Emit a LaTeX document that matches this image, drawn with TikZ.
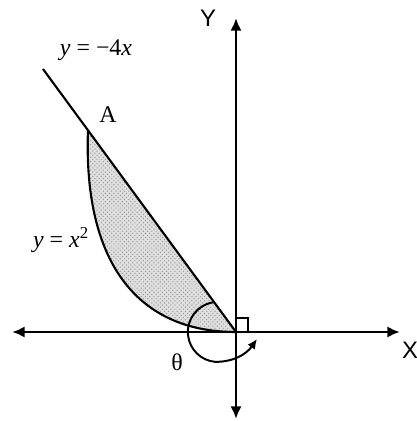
\documentclass[tikz,border=0pt]{standalone}
\usepackage{fontspec}
\setmainfont{Liberation Serif}
\newfontfamily\axisfont{Liberation Sans}
\usetikzlibrary{arrows.meta,patterns}

\begin{document}
\begin{tikzpicture}[x=0.25cm,y=0.25cm,every node/.style={font=\fontsize{17}{20}\selectfont}]
\useasboundingbox (-23.6,-8.9) rectangle (18.1,33.2);
\coordinate (o) at (0,0);
\coordinate (a) at (-14.8,20.2);
\coordinate (lt) at (-19.3,26.3);
\coordinate (xl) at (-22.4,0);
\coordinate (xr) at (16.4,0);
\coordinate (yb) at (0,-8.7);
\coordinate (yt) at (0,31.4);
% shaded part between the two curves
\fill[gray!25] (o) .. controls (-9.5,0) and (-15.3,6.5) .. (a) -- cycle;
\fill[pattern=crosshatch dots,pattern color=gray!80] (o) .. controls (-9.5,0) and (-15.3,6.5) .. (a) -- cycle;
\draw[line width=1.5pt] (o) .. controls (-9.5,0) and (-15.3,6.5) .. (a);
\draw[line width=1.5pt] (lt)--(o);
% axes
\draw[line width=2pt,{Latex[length=9pt,width=8pt]}-{Latex[length=9pt,width=8pt]}] (xl)--(xr);
\draw[line width=2pt,{Latex[length=9pt,width=8pt]}-{Latex[length=9pt,width=8pt]}] (yb)--(yt);
\draw[line width=1.2pt] (0,1.4) -| (1.2,0);
\draw[line width=1.4pt,-{Latex[length=7pt,width=6.5pt]}] (-2.18,2.98) arc[start angle=97,end angle=265,radius=3] to[out=0,in=-125] (2.1,-0.7);
\node (la) at (-12.8,21.7) {A};
\node (lline) at (-14,28.2) {\textit{y} = −4\textit{x}};
\node (lpar) at (-17.5,9.2) {\textit{y} = \textit{x}\textsuperscript{2}};
\node (lth) at (-5.9,-3.0) {θ};
\node[font=\axisfont\fontsize{17}{20}\selectfont] (lx) at (17.4,-1.8) {X};
\node[font=\axisfont\fontsize{17}{20}\selectfont] (ly) at (-2.8,31.4) {Y};
\end{tikzpicture}
\end{document}
